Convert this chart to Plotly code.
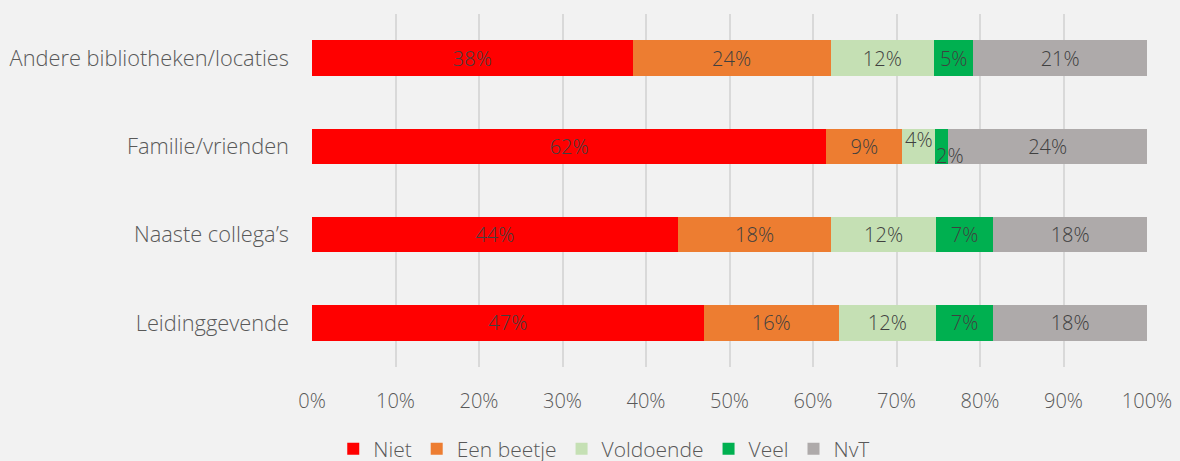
import plotly.graph_objects as go

categories = ["Andere bibliotheken/locaties", "Familie/vrienden", "Naaste collega\u2019s", "Leidinggevende"]
series_names = ["Niet", "Een beetje", "Voldoende", "Veel", "NvT"]
niet = [38.4, 61.6, 43.8, 46.9]
een_beetje = [23.7, 9.1, 18.4, 16.2]
voldoende = [12.4, 3.9, 12.5, 11.6]
veel = [4.7, 1.6, 6.9, 6.9]
nvt = [20.8, 23.8, 18.4, 18.4]
tick_labels = ["0%", "10%", "20%", "30%", "40%", "50%", "60%", "70%", "80%", "90%", "100%"]

colors = ["#ff0000", "#ed7d31", "#c5e0b4", "#00b050", "#aeaaaa"]
series = [niet, een_beetje, voldoende, veel, nvt]

FONT = "Open Sans"
LABEL_COLOR = "#404040"
AXIS_COLOR = "#595959"
lbl_font = dict(family=FONT, size=20, color=LABEL_COLOR, weight=300)

fig = go.Figure()
for name, vals, col in zip(series_names, series, colors):
    # labels for the tiny Familie segments are placed separately below
    texts = []
    for cat, v in zip(categories, vals):
        if cat == "Familie/vrienden" and name in ("Voldoende", "Veel"):
            texts.append("")
        else:
            texts.append(f"{v:.0f}%")
    fig.add_trace(go.Bar(
        y=categories, x=vals, name=name, orientation="h",
        marker=dict(color=col, line=dict(width=0)),
        text=texts, textposition="inside", insidetextanchor="middle",
        constraintext="none", textfont=lbl_font,
        hoverinfo="skip",
    ))

# offset labels for the narrow Familie segments (like Excel does)
fam = categories.index("Familie/vrienden")
base = niet[fam] + een_beetje[fam]
fig.add_annotation(x=base + voldoende[fam] / 2, y=categories[fam], text=f"{voldoende[fam]:.0f}%",
                   showarrow=False, yshift=7, font=lbl_font)
fig.add_annotation(x=base + voldoende[fam] + veel[fam] / 2, y=categories[fam], text=f"{veel[fam]:.0f}%",
                   showarrow=False, yshift=-9, xshift=8, font=lbl_font)

fig.update_layout(
    barmode="stack",
    bargap=0.6,
    width=1180, height=461,
    margin=dict(l=312, r=33, t=14, b=94, autoexpand=False),
    paper_bgcolor="#f2f2f2",
    plot_bgcolor="#f2f2f2",
    font=dict(family=FONT, color=AXIS_COLOR, weight=300),
    showlegend=True,
    legend=dict(orientation="h", x=0.35, xanchor="center",
                yref="container", y=0.026, yanchor="middle",
                font=dict(family=FONT, size=21, color=AXIS_COLOR, weight=300),
                traceorder="normal", itemwidth=30, bgcolor="rgba(0,0,0,0)"),
    xaxis=dict(range=[0, 100], tickvals=list(range(0, 101, 10)), ticktext=tick_labels,
               showgrid=True, gridcolor="#d9d9d9", gridwidth=2, zeroline=False,
               showline=False, ticks="", ticklabelstandoff=20, automargin=False,
               tickfont=dict(family=FONT, size=20, color=AXIS_COLOR, weight=300),
               fixedrange=True),
    yaxis=dict(autorange="reversed", showgrid=False, zeroline=False, showline=False,
               ticks="", ticklabelstandoff=22, automargin=False,
               tickfont=dict(family=FONT, size=21.8, color=AXIS_COLOR, weight=300),
               fixedrange=True),
)

fig.write_html("out.html", config={"displayModeBar": False},
               post_script="document.body.style.margin='0';document.body.style.background='#f2f2f2';")
